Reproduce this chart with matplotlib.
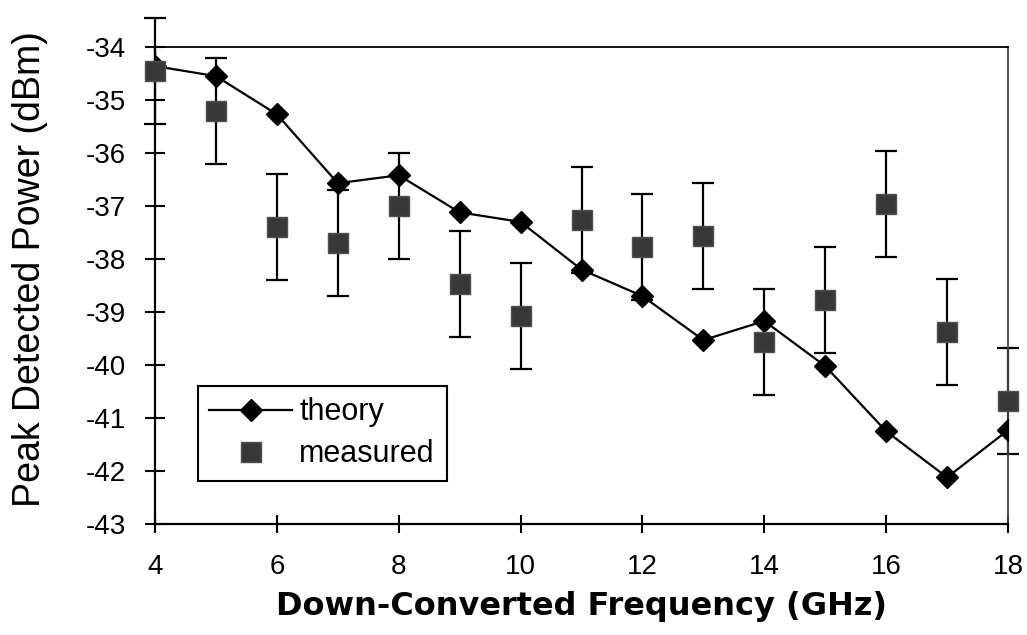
import matplotlib
matplotlib.use("Agg")
import matplotlib.pyplot as plt

# data
freq_ghz = [4, 5, 6, 7, 8, 9, 10, 11, 12, 13, 14, 15, 16, 17, 18]
theory_dbm = [-34.36, -34.55, -35.27, -36.57, -36.42, -37.12, -37.30, -38.20,
              -38.70, -39.53, -39.17, -40.02, -41.25, -42.12, -41.23]
measured_dbm = [-34.45, -35.20, -37.40, -37.70, -37.00, -38.47, -39.07, -37.27,
                -37.77, -37.57, -39.57, -38.77, -36.97, -39.37, -40.67]
measured_err = [1.0] * 15

x_ticks = [4, 6, 8, 10, 12, 14, 16, 18]
y_ticks = [-34, -35, -36, -37, -38, -39, -40, -41, -42, -43]

plt.rcParams["font.family"] = ["Liberation Sans", "DejaVu Sans"]
plt.rcParams["axes.unicode_minus"] = False

fig = plt.figure(figsize=(10.27, 6.35), dpi=100)
ax = fig.add_axes([155 / 1027, 1 - 524 / 635, 853 / 1027, 477 / 635])

ax.plot(freq_ghz, theory_dbm, color="black", lw=1.6, marker="D", ms=11,
        mfc="black", mec="black", label="theory", zorder=3)
ax.errorbar(freq_ghz, measured_dbm, yerr=measured_err, fmt="none",
            ecolor="black", elinewidth=1.6, capsize=8, capthick=1.6,
            zorder=2, clip_on=False)
ax.plot(freq_ghz, measured_dbm, ls="none", marker="s", ms=14,
        mfc="#383838", mec="#505050", mew=1.0, label="measured",
        zorder=4, clip_on=False)

ax.set_xlim(4, 18)
ax.set_ylim(-43, -34)
ax.set_xticks(x_ticks)
ax.set_yticks(y_ticks)
ax.tick_params(axis="both", direction="inout", width=1.5, labelsize=20,
               color="black")
ax.tick_params(axis="y", length=14, pad=14)
ax.tick_params(axis="x", length=13, pad=15)

for side in ["left", "bottom"]:
    ax.spines[side].set_linewidth(1.6)
ax.spines["top"].set_linewidth(1.3)
ax.spines["right"].set_linewidth(1.3)
ax.spines["right"].set_color("#444444")
ax.spines["right"].set_linestyle((0, (1, 1)))

ax.set_ylabel("Peak Detected Power (dBm)", fontsize=27)
ax.yaxis.set_label_coords(-0.125, 0.535)
ax.set_xlabel("Down-Converted Frequency (GHz)", fontsize=23,
              fontweight="bold", family="DejaVu Sans")
ax.xaxis.set_label_coords(0.5, -0.14)

leg = ax.legend(loc="lower left", bbox_to_anchor=(0.05, 0.09),
                borderaxespad=0, fontsize=22, handlelength=2.7,
                labelspacing=0.4, fancybox=False, framealpha=1,
                edgecolor="black", borderpad=0.38, handletextpad=0.25)
leg.get_frame().set_linewidth(1.5)

fig.savefig("out.png", dpi=100)
